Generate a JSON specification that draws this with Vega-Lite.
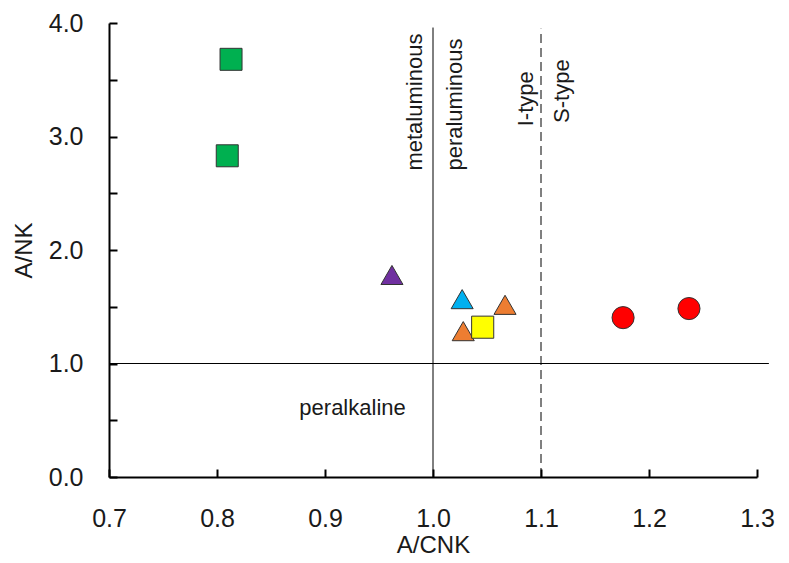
{
  "$schema": "https://vega.github.io/schema/vega-lite/v6.json",
  "width": 648,
  "height": 454,
  "autosize": {"type": "none"},
  "padding": {"left": 109, "top": 23, "right": 32, "bottom": 86},
  "config": {
    "view": {"stroke": null},
    "font": "Liberation Sans",
    "axis": {
      "domainColor": "#000000",
      "domainWidth": 2,
      "tickColor": "#000000",
      "tickWidth": 2,
      "tickSize": -8,
      "grid": false,
      "labelFont": "Liberation Sans",
      "labelFontSize": 25,
      "labelColor": "#1a1a1a",
      "titleFont": "Liberation Sans",
      "titleFontSize": 24,
      "titleFontWeight": "normal",
      "titleColor": "#1a1a1a"
    }
  },
  "layer": [
    {
      "data": {"values": [{"x": 0.7, "x2": 1.311, "y": 1.0}]},
      "mark": {"type": "rule", "color": "#000000", "strokeWidth": 1, "clip": false},
      "encoding": {
        "x": {"field": "x", "type": "quantitative", "scale": {"domain": [0.7, 1.3]}},
        "x2": {"field": "x2"},
        "y": {"field": "y", "type": "quantitative"}
      }
    },
    {
      "data": {"values": [{"x": 1.0, "y": 0, "y2": 3.96}]},
      "mark": {"type": "rule", "color": "#000000", "strokeWidth": 1},
      "encoding": {
        "x": {"field": "x", "type": "quantitative"},
        "y": {"field": "y", "type": "quantitative"},
        "y2": {"field": "y2"}
      }
    },
    {
      "data": {"values": [{"x": 1.1, "y": 0, "y2": 3.95}]},
      "mark": {"type": "rule", "color": "#000000", "strokeWidth": 1, "strokeDash": [9, 5]},
      "encoding": {
        "x": {"field": "x", "type": "quantitative"},
        "y": {"field": "y", "type": "quantitative"},
        "y2": {"field": "y2"}
      }
    },
    {
      "data": {"values": [
        {"x": 0.983, "y": 2.70, "label": "metaluminous"},
        {"x": 1.0204, "y": 2.70, "label": "peraluminous"},
        {"x": 1.086, "y": 3.09, "label": "I-type"},
        {"x": 1.119, "y": 3.12, "label": "S-type"}
      ]},
      "mark": {"type": "text", "angle": 270, "align": "left", "baseline": "middle", "fontSize": 22, "color": "#1a1a1a", "font": "Liberation Sans"},
      "encoding": {
        "x": {"field": "x", "type": "quantitative"},
        "y": {"field": "y", "type": "quantitative"},
        "text": {"field": "label"}
      }
    },
    {
      "data": {"values": [{"x": 0.9255, "y": 0.605, "label": "peralkaline"}]},
      "mark": {"type": "text", "align": "center", "baseline": "middle", "fontSize": 22, "color": "#1a1a1a", "font": "Liberation Sans"},
      "encoding": {
        "x": {"field": "x", "type": "quantitative"},
        "y": {"field": "y", "type": "quantitative"},
        "text": {"field": "label"}
      }
    },
    {
      "data": {"values": [
        {"x": 0.813, "y": 3.68, "group": "A"},
        {"x": 0.8095, "y": 2.83, "group": "A"},
        {"x": 0.962, "y": 1.78, "group": "B"},
        {"x": 1.027, "y": 1.567, "group": "C"},
        {"x": 1.0667, "y": 1.517, "group": "D"},
        {"x": 1.028, "y": 1.285, "group": "D"},
        {"x": 1.046, "y": 1.32, "group": "E"},
        {"x": 1.176, "y": 1.404, "group": "F"},
        {"x": 1.237, "y": 1.484, "group": "F"}
      ]},
      "mark": {"type": "point", "filled": true, "opacity": 1, "stroke": "#333333", "strokeWidth": 1, "size": 420},
      "encoding": {
        "x": {
          "field": "x", "type": "quantitative",
          "scale": {"domain": [0.7, 1.3], "nice": false, "zero": false},
          "axis": {"title": "A/CNK", "values": [0.7, 0.8, 0.9, 1.0, 1.1, 1.2, 1.3], "format": ".1f", "labelPadding": 37, "titlePadding": 2, "labelFlush": false}
        },
        "y": {
          "field": "y", "type": "quantitative",
          "scale": {"domain": [0, 4], "nice": false, "zero": false},
          "axis": {"title": "A/NK", "values": [0, 0.5, 1, 1.5, 2, 2.5, 3, 3.5, 4], "labelExpr": "datum.value % 1 === 0 ? format(datum.value, '.1f') : ''", "labelPadding": 34, "titlePadding": 12, "labelFlush": false}
        },
        "fill": {
          "field": "group", "type": "nominal", "legend": null,
          "scale": {"domain": ["A", "B", "C", "D", "E", "F"], "range": ["#00B050", "#7030A0", "#00B0F0", "#ED7D31", "#FFFF00", "#FF0000"]}
        },
        "shape": {
          "field": "group", "type": "nominal", "legend": null,
          "scale": {"domain": ["A", "B", "C", "D", "E", "F"], "range": ["square", "triangle-up", "triangle-up", "triangle-up", "square", "circle"]}
        },
        "size": {
          "field": "group", "type": "nominal", "legend": null,
          "scale": {"domain": ["A", "B", "C", "D", "E", "F"], "range": [484, 490, 490, 490, 484, 380]}
        }
      }
    }
  ]
}
